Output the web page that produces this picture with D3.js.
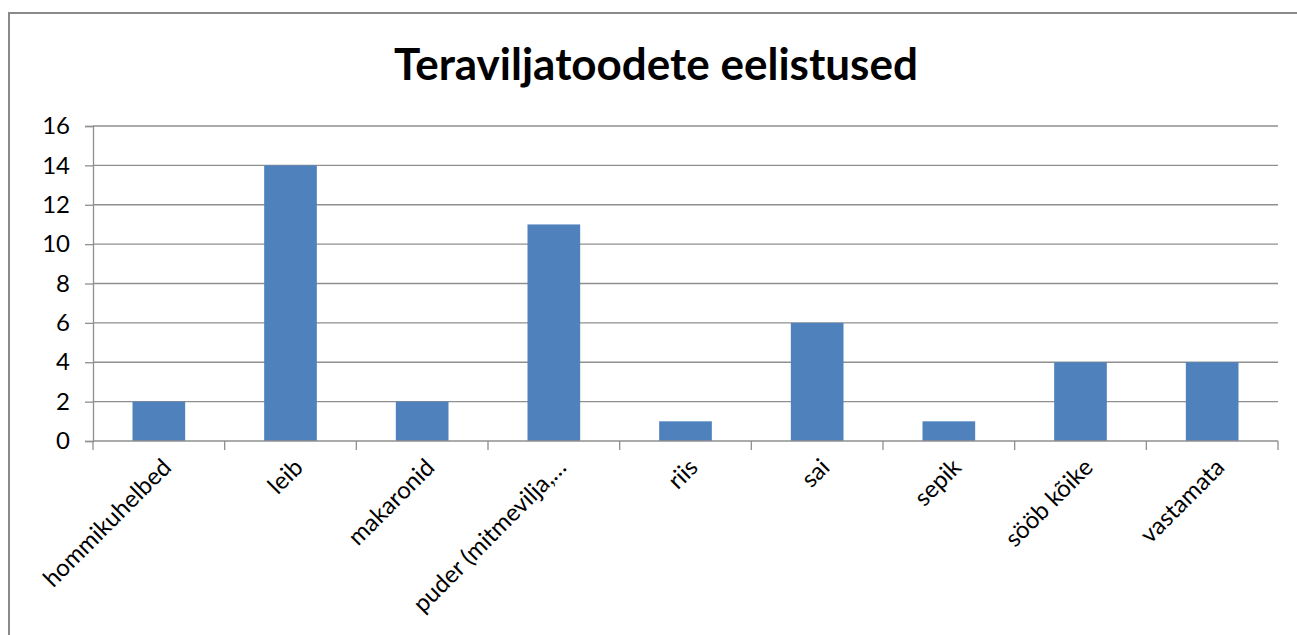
<!DOCTYPE html>
<html>
<head>
<meta charset="utf-8">
<script src="https://cdn.jsdelivr.net/npm/d3@7"></script>
<style>
  html, body { margin: 0; padding: 0; background: #fff; }
  svg { display: block; }
  text { font-family: Lato, "Open Sans", "Liberation Sans", sans-serif; fill: #000; }
</style>
</head>
<body>
<svg id="chart" width="1297" height="635"></svg>
<script>
// Teraviljatoodete eelistused — number of answers per category
const categories = ["hommikuhelbed", "leib", "makaronid", "puder (mitmevilja,…", "riis", "sai", "sepik", "sööb kõike", "vastamata"];
const counts = [2, 14, 2, 11, 1, 6, 1, 4, 4];
const yTicks = [0, 2, 4, 6, 8, 10, 12, 14, 16];
const title = "Teraviljatoodete eelistused";

const svg = d3.select("#chart");
const W = 1297, H = 635;
const plot = { left: 93, right: 1278, top: 126, bottom: 441 };

// outer chart frame
svg.append("rect")
  .attr("x", 9).attr("y", 13)
  .attr("width", W + 10).attr("height", H + 10)
  .attr("fill", "#fff").attr("stroke", "#8a8a8a").attr("stroke-width", 2);

svg.append("text")
  .attr("x", 656).attr("y", 80)
  .attr("text-anchor", "middle")
  .style("font-size", "44px").style("font-weight", "bold")
  .text(title);

const x = d3.scaleBand().domain(categories).range([plot.left, plot.right]).paddingInner(0.6).paddingOuter(0.3);
const xOuter = d3.scaleBand().domain(categories).range([plot.left, plot.right]);
const y = d3.scaleLinear().domain([0, 16]).range([plot.bottom, plot.top]);

// horizontal gridlines
svg.append("g").selectAll("line").data(yTicks.filter(t => t > 0)).join("line")
  .attr("x1", plot.left).attr("x2", plot.right)
  .attr("y1", d => y(d)).attr("y2", d => y(d))
  .attr("stroke", "#8f8f8f").attr("stroke-width", 1.3);

// bars
svg.append("g").selectAll("rect").data(categories).join("rect")
  .attr("x", d => x(d))
  .attr("width", x.bandwidth())
  .attr("y", (d, i) => y(counts[i]))
  .attr("height", (d, i) => y(0) - y(counts[i]))
  .attr("fill", "#4f81bd");

// y axis
const yAxis = svg.append("g").attr("transform", `translate(${plot.left},0)`)
  .call(d3.axisLeft(y).tickValues(yTicks).tickSize(8).tickPadding(15).tickFormat(d3.format("d")));
yAxis.select(".domain").attr("stroke", "#8f8f8f").attr("stroke-width", 1.3);
yAxis.selectAll(".tick line").attr("stroke", "#8f8f8f").attr("stroke-width", 1.3);
yAxis.selectAll(".tick text").style("font-size", "24px").attr("fill", "#000");

// x axis baseline and category separators
const xg = svg.append("g");
xg.append("line")
  .attr("x1", plot.left).attr("x2", plot.right)
  .attr("y1", y(0)).attr("y2", y(0))
  .attr("stroke", "#8f8f8f").attr("stroke-width", 1.3);
const bounds = categories.map(c => xOuter(c)).concat([plot.right]);
xg.selectAll("line.sep").data(bounds).join("line").attr("class", "sep")
  .attr("x1", d => d).attr("x2", d => d)
  .attr("y1", y(0)).attr("y2", y(0) + 9)
  .attr("stroke", "#8f8f8f").attr("stroke-width", 1.3);

// rotated category labels
xg.selectAll("text").data(categories).join("text")
  .attr("transform", d => `translate(${xOuter(d) + xOuter.bandwidth() / 2 + 2},${y(0) + 16}) rotate(-45)`)
  .attr("text-anchor", "end")
  .attr("dy", "0.7em")
  .style("font-size", "24px")
  .text(d => d);
</script>
</body>
</html>
